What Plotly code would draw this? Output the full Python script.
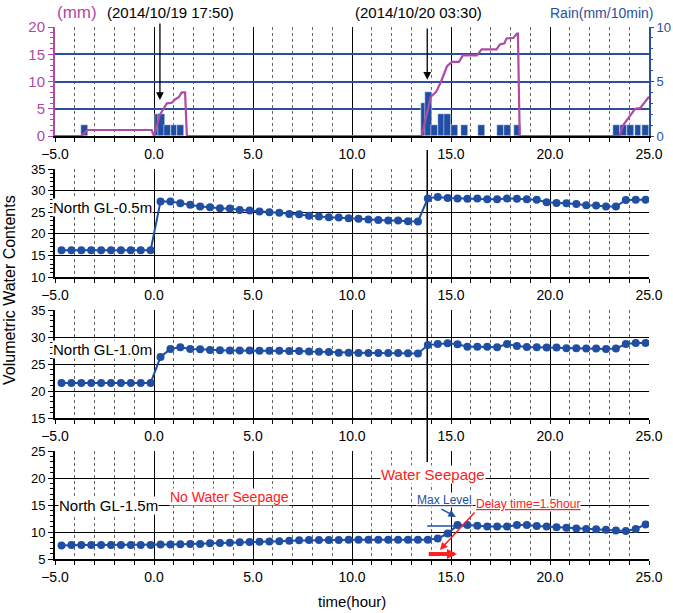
import plotly.graph_objects as go

# ---------------- data ----------------
t_wc = [-4.67, -4.17, -3.67, -3.17, -2.67, -2.17, -1.67, -1.17, -0.67, -0.17,
        0.33, 0.83, 1.33, 1.83, 2.33, 2.83, 3.33, 3.83, 4.33, 4.83,
        5.33, 5.83, 6.33, 6.83, 7.33, 7.83, 8.33, 8.83, 9.33, 9.83,
        10.33, 10.83, 11.33, 11.83, 12.33, 12.83, 13.33, 13.83, 14.33, 14.83,
        15.33, 15.83, 16.33, 16.83, 17.33, 17.83, 18.33, 18.83, 19.33, 19.83,
        20.33, 20.83, 21.33, 21.83, 22.33, 22.83, 23.33, 23.83, 24.33, 24.83]

wc_05 = [16.2, 16.2, 16.2, 16.2, 16.2, 16.2, 16.2, 16.2, 16.2, 16.2,
         27.5, 27.5, 27.1, 26.7, 26.3, 26.15, 25.9, 25.85, 25.5, 25.4,
         25.15, 25.0, 24.85, 24.6, 24.5, 24.2, 24.0, 23.85, 23.8, 23.6,
         23.5, 23.3, 23.2, 23.1, 23.1, 22.9, 22.85, 28.2, 28.5, 28.3,
         28.2, 28.1, 28.15, 28.0, 28.0, 28.15, 28.1, 28.0, 27.9, 27.3,
         27.15, 27.1, 26.9, 26.6, 26.55, 26.3, 26.3, 27.85, 27.9, 27.9]

wc_10 = [21.5, 21.5, 21.5, 21.5, 21.5, 21.5, 21.5, 21.5, 21.5, 21.5,
         26.3, 27.8, 28.1, 27.8, 27.75, 27.6, 27.55, 27.5, 27.5, 27.5,
         27.45, 27.45, 27.45, 27.4, 27.4, 27.3, 27.25, 27.2, 27.1, 27.1,
         27.05, 27.05, 27.05, 27.05, 27.05, 27.0, 26.95, 28.5, 28.7, 28.85,
         28.65, 28.2, 28.2, 28.2, 28.1, 28.7, 28.35, 28.15, 28.1, 28.05,
         28.05, 27.9, 27.9, 27.85, 27.85, 27.8, 27.85, 28.7, 28.9, 28.9]

wc_15 = [7.5, 7.6, 7.6, 7.6, 7.6, 7.6, 7.6, 7.6, 7.6, 7.6,
         7.7, 7.7, 7.75, 7.8, 7.8, 7.9, 7.95, 8.0, 8.1, 8.15,
         8.2, 8.25, 8.3, 8.4, 8.45, 8.5, 8.5, 8.5, 8.5, 8.55,
         8.55, 8.55, 8.55, 8.55, 8.55, 8.55, 8.55, 8.55, 8.8, 9.7,
         11.3, 11.3, 11.15, 11.0, 11.0, 11.0, 11.3, 11.3, 11.1, 11.0,
         10.9, 10.8, 10.65, 10.55, 10.5, 10.4, 10.3, 10.2, 10.55, 11.4]

rain_time = [-3.51, 0.2, 0.38, 0.67, 1.0, 1.33,
             13.65, 13.86, 14.17, 14.51, 14.82, 15.17, 15.69, 16.53, 17.51, 17.84, 18.35,
             23.35, 23.7, 24.07, 24.45, 24.82]
rain_val = [1, 2, 2, 1, 1, 1,
            3, 4, 1, 2, 2, 1, 1, 1, 1, 1, 1,
            1, 1, 1, 1, 1]

cum_time = [-5, -3.67, -3.36, -0.12, 0.0, 0.3, 0.5, 0.65, 0.9, 1.06,
            1.25, 1.4, 1.57, 1.66, 13.52, 13.98, 14.25, 14.5, 14.8, 15.05,
            15.4, 15.6, 16.3, 16.55, 17.3, 17.47, 17.7, 17.8, 18.15, 18.33,
            18.38, 18.47, 23.5, 23.7, 24.3, 24.55, 25]
cum_mm = [0, 0, 1.1, 1.1, 0, 3.9, 5.1, 6.0, 6.1, 6.7,
          7.1, 8.0, 8.0, 0, 0, 7.2, 8.1, 10.0, 12.8, 13.6,
          13.6, 14.8, 14.8, 15.9, 15.9, 16.8, 17.0, 17.9, 18.0, 18.8,
          18.8, 0, 0, 2.0, 5.0, 5.1, 7.2]

rain_start_1 = 0.3      # 2014/10/19 17:50
rain_start_2 = 13.8     # 2014/10/20 03:30
seepage_time = 15.3     # delay 1.5 hour
max_level = 11.1
max_level_span = [13.8, 16.0]

# ---------------- style ----------------
MAG = "#b04aa5"
BLUE = "#1f4ea3"
GBLUE = "#2a4f9f"
RED = "#ff2020"
FONT = "Liberation Sans"

W, H = 673, 613
ML, MR, MT, MB = 55, 24, 27, 54
PH = H - MT - MB
PW = W - ML - MR


def py(px):   # page pixel -> paper y
    return (H - MB - px) / PH


def pxx(px):  # page pixel -> paper x
    return (px - ML) / PW


fig = go.Figure()

# top panel: rain bars on base axis y (right), cumulative on overlay y5 (left)
fig.add_trace(go.Bar(x=rain_time, y=rain_val, width=0.33, xaxis="x", yaxis="y",
                     marker=dict(color=BLUE, line=dict(color="white", width=0.5)),
                     showlegend=False))
fig.add_trace(go.Scatter(x=cum_time, y=cum_mm, xaxis="x", yaxis="y5", mode="lines",
                         line=dict(color=MAG, width=2.2), showlegend=False))

for xa, ya, vals in [("x2", "y2", wc_05), ("x3", "y3", wc_10), ("x4", "y4", wc_15)]:
    fig.add_trace(go.Scatter(x=t_wc, y=vals, xaxis=xa, yaxis=ya, mode="lines+markers",
                             line=dict(color=BLUE, width=2),
                             marker=dict(color=BLUE, size=8), showlegend=False))

fig.add_trace(go.Scatter(x=max_level_span, y=[max_level, max_level], xaxis="x4", yaxis="y4",
                         mode="lines", line=dict(color=BLUE, width=1.5), showlegend=False))

xcommon = dict(range=[-5, 25], tick0=0, dtick=5, tickformat=".1f", showgrid=True,
               gridcolor="black", gridwidth=1.3, zeroline=False, showline=True,
               linecolor="black", linewidth=2, ticks="outside", ticklen=4, automargin=False,
               tickcolor="black", tickfont=dict(size=14, color="black", family=FONT),
               minor=dict(dtick=1, showgrid=True, griddash="dot", gridcolor="#666666",
                          gridwidth=1, ticks="outside", ticklen=4, tickcolor="black"))

ycommon = dict(dtick=5, showgrid=True, gridcolor="black", gridwidth=1.3, zeroline=False,
               showline=True, linecolor="black", linewidth=2, ticks="outside", ticklen=5,
               tickcolor="black", tickfont=dict(size=13, color="black", family=FONT),
               automargin=False,
               minor=dict(dtick=1, ticks="outside", ticklen=3, tickcolor="black"))

doms = [(py(136), py(27)), (py(277), py(169)), (py(418), py(310)), (py(559), py(451))]

fig.update_layout(
    width=W, height=H, autosize=False, showlegend=False,
    margin=dict(l=ML, r=MR, t=MT, b=MB, autoexpand=False),
    paper_bgcolor="white", plot_bgcolor="white",
    font=dict(family=FONT, color="black"),
    bargap=0,
    xaxis=dict(xcommon, anchor="y", layer="below traces"),
    xaxis2=dict(xcommon, anchor="y2"),
    xaxis3=dict(xcommon, anchor="y3"),
    xaxis4=dict(xcommon, anchor="y4"),
    yaxis=dict(domain=list(doms[0]), anchor="x", side="right", range=[0, 10], dtick=5,
               showgrid=False, zeroline=False, showline=True, linecolor=GBLUE, linewidth=2,
               ticks="outside", ticklen=3, tickcolor=GBLUE, automargin=False,
               tickfont=dict(size=13, color=GBLUE, family=FONT),
               minor=dict(dtick=1, ticks="outside", ticklen=2, tickcolor=GBLUE)),
    yaxis5=dict(overlaying="y", anchor="x", side="left", range=[0, 20], dtick=5,
                showgrid=True, gridcolor=GBLUE, gridwidth=1.6, zeroline=False,
                showline=True, linecolor=MAG, linewidth=2, ticks="outside", ticklen=5,
                tickcolor=MAG, automargin=False,
                tickfont=dict(size=15, color=MAG, family=FONT),
                minor=dict(dtick=1, ticks="outside", ticklen=3, tickcolor=MAG)),
    yaxis2=dict(ycommon, domain=list(doms[1]), anchor="x2", range=[10, 35]),
    yaxis3=dict(ycommon, domain=list(doms[2]), anchor="x3", range=[15, 35]),
    yaxis4=dict(ycommon, domain=list(doms[3]), anchor="x4", range=[5, 25]),
)

# long vertical marker line at the second rain start
fig.add_shape(type="line", xref="x2", yref="paper", x0=rain_start_2, x1=rain_start_2,
              y0=py(462), y1=py(150), line=dict(color="black", width=1.5), layer="between")

ann = []


def txt(text, x, y, color="black", size=14, xref="paper", yref="paper", bg=None,
        xanchor="center", **kw):
    d = dict(text=text, x=x, y=y, xref=xref, yref=yref, showarrow=False,
             font=dict(size=size, color=color, family=FONT), xanchor=xanchor,
             yanchor="middle", borderpad=0)
    if bg:
        d["bgcolor"] = bg
    d.update(kw)
    ann.append(d)


txt("(mm)", pxx(77), py(13), MAG, 17)
txt("(2014/10/19 17:50)", pxx(170), py(13), "black", 15)
txt("(2014/10/20 03:30)", pxx(418), py(13), "black", 15)
txt("Rain(mm/10min)", pxx(601), py(13), GBLUE, 14)

# arrows in top panel
for xa, yhead, ytail in [(rain_start_1, 6.6, 20.9), (rain_start_2, 10.3, 20.0)]:
    ann.append(dict(x=xa, y=yhead, xref="x", yref="y5", ax=xa, ay=ytail, axref="x",
                    ayref="y5", showarrow=True, arrowhead=2, arrowsize=1.2, arrowwidth=1.3,
                    arrowcolor="black", text=""))

txt("Volumetric Water Contents", pxx(9), py(290), "black", 16, textangle=-90)
txt("time(hour)", pxx(352), py(601), "black", 15)

txt("North GL-0.5m", pxx(52), 26.1, "black", 15, yref="y2", bg="white", xanchor="left")
txt("North GL-1.0m", pxx(52), 27.6, "black", 15, yref="y3", bg="white", xanchor="left")
txt("North GL-1.5m", pxx(58), 15.0, "black", 15, yref="y4", bg="white", xanchor="left")
txt("No Water Seepage", 3.81, 16.5, RED, 14, xref="x4", yref="y4", bg="white")
txt("Water Seepage", 14.07, 20.56, RED, 15, xref="x4", yref="y4", bg="white")
txt("<u>Max Level</u>", 14.65, 15.93, BLUE, 12, xref="x4", yref="y4", bg="white")
txt("<u>Delay time=1.5hour</u>", 18.89, 15.19, RED, 12, xref="x4", yref="y4", bg="white")

ann.append(dict(x=15.25, y=12.8, xref="x4", yref="y4", ax=14.44, ay=14.4, axref="x4",
                ayref="y4", showarrow=True, arrowhead=2, arrowsize=1, arrowwidth=1.5,
                arrowcolor=BLUE, text=""))
ann.append(dict(x=14.44, y=6.67, xref="x4", yref="y4", ax=16.26, ay=13.9, axref="x4",
                ayref="y4", showarrow=True, arrowhead=2, arrowsize=1, arrowwidth=1.5,
                arrowcolor=RED, text=""))
ann.append(dict(x=seepage_time, y=5.93, xref="x4", yref="y4", ax=rain_start_2, ay=5.93,
                axref="x4", ayref="y4", showarrow=True, arrowhead=2, arrowsize=0.5,
                arrowwidth=4, arrowcolor=RED, text=""))

fig.update_layout(annotations=ann)
fig.write_html(
    "out.html",
    config={"responsive": False, "displayModeBar": False},
    post_script="document.body.style.margin='0px';document.body.style.overflow='hidden';",
)
